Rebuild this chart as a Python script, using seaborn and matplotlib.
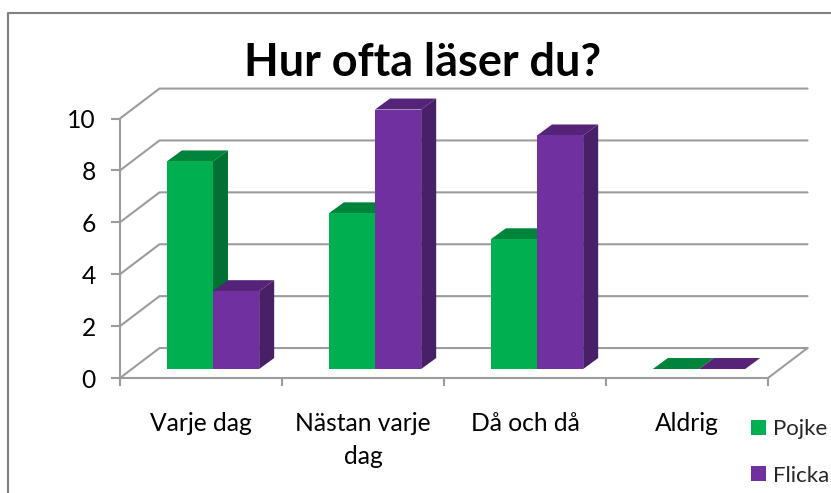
import matplotlib
matplotlib.use("Agg")
import matplotlib.pyplot as plt
import pandas as pd
import seaborn as sns
from matplotlib.lines import Line2D
from matplotlib.patches import Polygon

categories = ["Varje dag", "Nästan varje\ndag", "Då och då", "Aldrig"]
pojke = [8, 6, 5, 0]
flicka = [3, 10, 9, 0]
yticks = [0, 2, 4, 6, 8, 10]

W, H = 831, 493
PX_X = 162  # pixels per category
PX_Y = 26  # pixels per y unit
GRID = "#9c9c9c"

df = pd.DataFrame({
    "kategori": categories * 2,
    "antal": pojke + flicka,
    "kon": ["Pojke"] * 4 + ["Flicka"] * 4,
})
faces = {
    "Pojke": ("#00b050", "#00843c", "#007033"),
    "Flicka": ("#7030a0", "#552479", "#472068"),
}

sns.set_style("white")
plt.rcParams["font.family"] = ["Lato", "DejaVu Sans"]

fig = plt.figure(figsize=(W / 100, H / 100), dpi=100)
ax = fig.add_axes([120 / W, 1 - 378 / H, 648 / W, 259.5 / H])
sns.barplot(data=df, x="kategori", y="antal", hue="kon",
            palette={k: v[0] for k, v in faces.items()},
            width=0.57, gap=0, saturation=1, linewidth=0, ax=ax)
ax.set_xlim(-0.5, 3.5)
ax.set_ylim(0, 10)
ax.set_xlabel("")
ax.set_ylabel("")

# back wall and floor
wall_dx, wall_dy = 39.5 / PX_X, 30 / PX_Y
for v in yticks:
    ax.plot([-0.5, -0.5 + wall_dx, 3.5 + wall_dx], [v, v + wall_dy, v + wall_dy],
            color=GRID, lw=1.5, clip_on=False, zorder=1)
ax.plot([3.5, 3.5 + wall_dx], [0, wall_dy], color=GRID, lw=1.5, clip_on=False, zorder=1)

# bars stand a bit into the floor, then get a top and a side face
off_x, off_y = 12 / PX_X, 9 / PX_Y
dep_x, dep_y = 15 / PX_X, 11 / PX_Y
for i, (name, cont) in enumerate(zip(faces, ax.containers)):
    _, top_col, side_col = faces[name]
    for bar in cont:
        bar.set_x(bar.get_x() + off_x)
        bar.set_y(off_y)
        bar.set_clip_on(False)
        bar.set_zorder(4 + 2 * i)
        x0, x1 = bar.get_x(), bar.get_x() + bar.get_width()
        y0, y1 = off_y, off_y + bar.get_height()
        ax.add_patch(Polygon([(x0, y1), (x1, y1), (x1 + dep_x, y1 + dep_y), (x0 + dep_x, y1 + dep_y)],
                             fc=top_col, ec="none", clip_on=False, zorder=3 + 2 * i))
        ax.add_patch(Polygon([(x1, y0), (x1, y1), (x1 + dep_x, y1 + dep_y), (x1 + dep_x, y0 + dep_y)],
                             fc=side_col, ec="none", clip_on=False, zorder=3 + 2 * i))

sns.despine(ax=ax)
for side in ["left", "bottom"]:
    ax.spines[side].set_color(GRID)
    ax.spines[side].set_linewidth(1.5)
    ax.spines[side].set_zorder(2)

ax.set_yticks(yticks)
ax.tick_params(axis="y", left=True, length=6.5, width=1.5, color=GRID, pad=11, labelsize=17.7, labelcolor="black")
ax.set_xticks(range(4), categories)
ax.set_xticks([-0.5, 0.5, 1.5, 2.5, 3.5], minor=True)
ax.tick_params(axis="x", which="major", bottom=False, pad=21, labelsize=17.7, labelcolor="black")
ax.tick_params(axis="x", which="minor", bottom=True, length=6, width=1.5, color=GRID)
for lab in ax.get_xticklabels():
    lab.set_linespacing(1.5)

sns.move_legend(ax, loc="upper left", bbox_to_anchor=(751 / W, 1 - 419 / H),
                bbox_transform=fig.transFigure, title=None, frameon=False, fontsize=16,
                handlelength=0.67, handleheight=0.67, handletextpad=0.3, labelspacing=1.2,
                borderpad=0, borderaxespad=0)

fig.text(423 / W, 1 - 63 / H, "Hur ofta läser du?", fontsize=32.4, fontweight="bold",
         ha="center", va="center", color="black")

# outer chart border, the crop cuts the rest
fig.add_artist(Line2D([8 / W, 8 / W, 1], [0, 1 - 13 / H, 1 - 13 / H], color="#808080", lw=1.5))

fig.savefig("out.png", dpi=100)
